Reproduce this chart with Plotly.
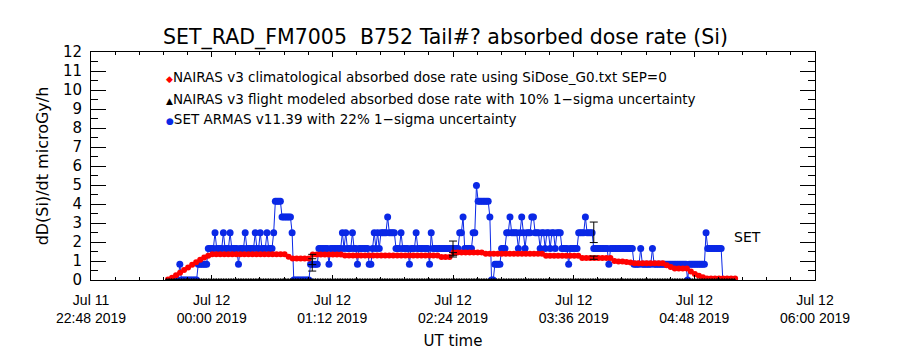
import pandas as pd
import plotly.graph_objects as go

# ---------------- data ----------------
axis_start = "2019-07-11 22:48:00"
axis_end = "2019-07-12 06:00:00"

# SET ARMAS v11.39 dose rate, 1-minute samples from 23:37 UT, run-length coded
armas_start = "2019-07-11 23:37:00"
armas_value = [0, 0.83, 0, 0.83, 1.66, 2.49, 1.66, 2.49, 1.66, 2.49,
               1.66, 0.83, 1.66, 2.49, 1.66, 2.49, 1.66, 2.49, 1.66, 2.49,
               1.66, 2.49, 4.15, 3.32, 2.49, 0, 0.83, 1.66, 0.83, 1.66,
               2.49, 1.66, 2.49, 1.66, 2.49, 1.66, 0.83, 1.66, 0.83, 1.66,
               2.49, 1.66, 2.49, 1.66, 2.49, 3.32, 2.49, 1.66, 2.49, 1.66,
               0.83, 1.66, 2.49, 1.66, 0.83, 2.49, 1.66, 2.49, 3.32, 1.66,
               2.49, 4.98, 4.15, 3.32, 0, 0.83, 1.66, 2.49, 3.32, 2.49,
               1.66, 2.49, 3.32, 2.49, 1.66, 2.49, 3.32, 2.49, 1.66, 2.49,
               1.66, 2.49, 1.66, 2.49, 1.66, 2.49, 1.66, 0.83, 1.66, 2.49,
               3.32, 2.49, 1.66, 0.83, 1.66, 0.83, 1.66, 0.83, 1.66, 0.83,
               0, 0.83, 2.49, 1.66, 0]
armas_count = [4, 1, 10, 6, 4, 1, 4, 1, 3, 1,
               4, 1, 3, 1, 5, 1, 2, 1, 3, 1,
               3, 1, 4, 6, 1, 10, 5, 6, 1, 7,
               1, 1, 1, 3, 1, 2, 1, 6, 2, 1,
               1, 1, 1, 1, 4, 1, 4, 3, 1, 4,
               1, 3, 1, 7, 1, 1, 16, 2, 1, 5,
               2, 1, 7, 1, 2, 4, 3, 2, 1, 4,
               1, 1, 1, 1, 1, 3, 2, 3, 1, 2,
               1, 2, 1, 2, 1, 3, 4, 1, 5, 4,
               1, 4, 9, 1, 14, 4, 1, 6, 1, 20,
               1, 10, 1, 9, 8]

# NAIRAS v3 climatological dose rate, 144-s samples from 23:33:56 UT, run-length coded
clim_start = "2019-07-11 23:33:56"
clim_value = [0.02, 0.12, 0.25, 0.38, 0.52, 0.66, 0.80, 0.94, 1.06, 1.18, 1.28,
              1.35, 1.22, 1.13, 1.34, 1.29, 1.21, 1.45, 1.38, 1.28, 1.16,
              1.00, 0.98, 0.97, 0.95, 0.92, 0.88, 0.78, 0.68, 0.60,
              0.45, 0.32, 0.22, 0.14, 0.08]
clim_count = [1, 1, 1, 1, 1, 1, 1, 1, 1, 1, 1,
              19, 1, 5, 8, 24, 3, 8, 15, 9, 8,
              1, 1, 1, 1, 1, 8, 1, 1, 4,
              1, 1, 1, 1, 8]

# NAIRAS v3 flight modeled dose rate, 1-minute samples from 23:33 UT
flight_start = "2019-07-11 23:33:00"
flight_value = [0.0]
flight_count = [340]

# error bars (NAIRAS flight 10 % and ARMAS 22 %)
err_time = ["2019-07-12 01:00:00", "2019-07-12 02:24:00", "2019-07-12 03:48:00"]
flight_err_lo = [0.81, 1.21, 1.09]
flight_err_hi = [1.35, 1.44, 1.26]
armas_err_lo = [0.47, 1.30, 1.97]
armas_err_hi = [1.12, 2.05, 3.05]

title_text = "SET_RAD_FM7005  B752 Tail#? absorbed dose rate (Si)"
legend_text = [
    "NAIRAS v3 climatological absorbed dose rate using SiDose_G0.txt SEP=0",
    "NAIRAS v3 flight modeled absorbed dose rate with 10% 1\u2212sigma uncertainty",
    "SET ARMAS v11.39 with 22% 1\u2212sigma uncertainty",
]


def expand(values, counts):
    out = []
    for v, c in zip(values, counts):
        out.extend([v] * c)
    return out


armas_y = expand(armas_value, armas_count)
armas_x = pd.date_range(armas_start, periods=len(armas_y), freq="1min")
clim_y = expand(clim_value, clim_count)
clim_x = pd.date_range(clim_start, periods=len(clim_y), freq="144s")
flight_y = expand(flight_value, flight_count)
flight_x = pd.date_range(flight_start, periods=len(flight_y), freq="1min")

BLUE = "#0a28e6"
RED = "#ff0000"

fig = go.Figure()
fig.add_trace(go.Scatter(x=armas_x, y=armas_y, mode="lines+markers",
                         line=dict(color=BLUE, width=1),
                         marker=dict(color=BLUE, size=7, symbol="circle"),
                         name="SET ARMAS"))
fig.add_trace(go.Scatter(x=clim_x, y=clim_y, mode="markers",
                         marker=dict(color=RED, size=6, symbol="circle"),
                         name="NAIRAS clim"))
fig.add_trace(go.Scatter(x=flight_x, y=flight_y, mode="markers",
                         marker=dict(color="black", size=4, symbol="triangle-up"),
                         name="NAIRAS flight"))
for lo, hi in ((flight_err_lo, flight_err_hi), (armas_err_lo, armas_err_hi)):
    mid = [(a + b) / 2 for a, b in zip(lo, hi)]
    half = [(b - a) / 2 for a, b in zip(lo, hi)]
    fig.add_trace(go.Scatter(x=err_time, y=mid, mode="markers",
                             marker=dict(size=1, color="rgba(0,0,0,0)"),
                             error_y=dict(type="data", array=half, visible=True,
                                          color="black", thickness=1, width=4)))

font_main = "DejaVu Sans"
fig.update_layout(
    width=900, height=350,
    margin=dict(l=91, r=85, t=52, b=70),
    paper_bgcolor="white", plot_bgcolor="white",
    showlegend=False,
    font=dict(family=font_main, color="black"),
    title=dict(text=title_text, font=dict(size=20.5, color="black"),
               x=0.495, xref="container", xanchor="center",
               y=1 - 37 / 350, yref="container", yanchor="middle"),
)
fig.update_xaxes(
    type="date", range=[axis_start, axis_end], automargin=False,
    tick0=axis_start, dtick=72 * 60 * 1000,
    tickformat="%b %d<br>%H:%M %Y",
    ticks="inside", ticklen=5, tickcolor="black",
    showline=True, linecolor="black", linewidth=1, mirror="ticks",
    showgrid=False, zeroline=False,
    tickfont=dict(size=14, family="Liberation Sans Narrow, Liberation Sans"),
    ticklabelstandoff=7,
    minor=dict(dtick=864000, tick0=axis_start, ticks="inside", ticklen=3,
               tickcolor="black", showgrid=False),
    title=dict(text="UT time", font=dict(size=15), standoff=14),
)
fig.update_yaxes(
    range=[0, 12], tick0=0, dtick=1, automargin=False,
    ticks="inside", ticklen=15, tickcolor="black",
    showline=True, linecolor="black", linewidth=1, mirror="ticks",
    showgrid=False, zeroline=False,
    tickfont=dict(size=15),
    ticklabelstandoff=5,
    minor=dict(dtick=0.5, ticks="inside", ticklen=7, tickcolor="black", showgrid=False),
    title=dict(text="dD(Si)/dt microGy/h", font=dict(size=16), standoff=10),
)

glyphs = [("\u25c6", RED), ("\u25b2", "black"), ("\u25cf", BLUE)]
ys_px = [77, 99, 119]
for (g, col), txt, ypx in zip(glyphs, legend_text, ys_px):
    fig.add_annotation(
        xref="paper", yref="paper", x=(164 - 91) / 724, y=(279.7 - ypx) / 228,
        xanchor="left", yanchor="middle", showarrow=False,
        text=f"<span style='font-size:9px;color:{col}'>{g}</span>{txt}",
        font=dict(size=13.5, color="black"),
    )

fig.add_annotation(xref="paper", yref="paper", x=(732 - 91) / 724, y=(279.7 - 237) / 228,
                   xanchor="left", yanchor="middle", showarrow=False,
                   text="SET", font=dict(size=14, color="black"))

fig.write_html("out.html")
